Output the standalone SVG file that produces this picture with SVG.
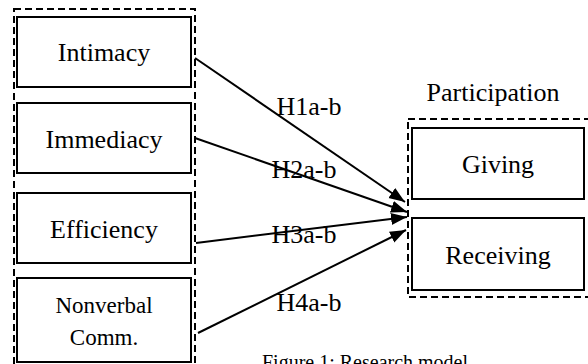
<svg xmlns="http://www.w3.org/2000/svg" width="588" height="364" viewBox="0 0 588 364">
<style>
.box{fill:#fff;stroke:#000;stroke-width:2}
.dash{fill:none;stroke:#000;stroke-width:2;stroke-dasharray:7 4}
.t{font-family:"Liberation Serif","Times New Roman",serif;font-size:26px;fill:#000;text-anchor:middle}
.s{font-size:23px}
.c{font-family:"Liberation Serif","Times New Roman",serif;font-size:20px;fill:#000}
.e{stroke:#000;stroke-width:2;fill:none;marker-end:url(#ah)}
</style>
<defs>
<marker id="ah" markerUnits="userSpaceOnUse" markerWidth="17" markerHeight="13" refX="16" refY="6" orient="auto">
<path d="M0,0 L16,6 L0,12 z" fill="#000"/>
</marker>
</defs>
<rect class="dash" x="14" y="9" width="181" height="365"/>
<rect class="dash" x="408" y="119" width="190" height="178"/>
<g id="intimacy"><rect class="box" x="17" y="17" width="174" height="70"/><text class="t" x="104" y="61">Intimacy</text></g>
<g id="immediacy"><rect class="box" x="17" y="103" width="174" height="70"/><text class="t" x="104" y="148">Immediacy</text></g>
<g id="efficiency"><rect class="box" x="17" y="193" width="174" height="70"/><text class="t" x="104" y="238">Efficiency</text></g>
<g id="nonverbal"><rect class="box" x="17" y="278" width="174" height="84"/><text class="t s" x="104" y="313">Nonverbal</text><text class="t s" x="104" y="345">Comm.</text></g>
<g id="participation"><text class="t" x="493" y="101">Participation</text></g>
<g id="giving"><rect class="box" x="412" y="128" width="172" height="71"/><text class="t" x="498" y="173">Giving</text></g>
<g id="receiving"><rect class="box" x="412" y="218" width="172" height="72"/><text class="t" x="498" y="264">Receiving</text></g>
<g id="connectors">
<line class="e" x1="195" y1="58" x2="405" y2="202"/>
<line class="e" x1="195" y1="138" x2="407" y2="212"/>
<line class="e" x1="196" y1="243" x2="407" y2="217"/>
<line class="e" x1="198" y1="333" x2="406" y2="230"/>
<text class="t" x="309" y="115">H1a-b</text>
<text class="t" x="304" y="178">H2a-b</text>
<text class="t" x="304" y="243">H3a-b</text>
<text class="t" x="309" y="311">H4a-b</text>
</g>
<text class="c" x="262" y="369">Figure 1: Research model</text>
</svg>
